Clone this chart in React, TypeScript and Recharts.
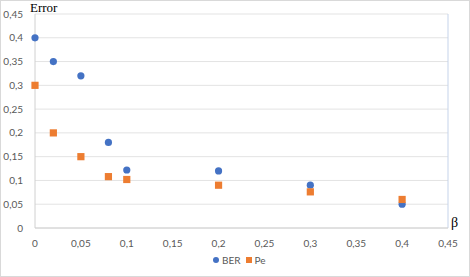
import React from "react";
import {
  ScatterChart,
  Scatter,
  XAxis,
  YAxis,
  CartesianGrid,
  ReferenceLine,
} from "recharts";

// beta values shared by both series
const betas = [0, 0.02, 0.05, 0.08, 0.1, 0.2, 0.3, 0.4];
const berValues = [0.4, 0.35, 0.32, 0.18, 0.122, 0.12, 0.09, 0.05];
const peValues = [0.3, 0.2, 0.15, 0.108, 0.102, 0.09, 0.076, 0.06];

const xTicks = [0, 0.05, 0.1, 0.15, 0.2, 0.25, 0.3, 0.35, 0.4, 0.45];
const yTicks = [0, 0.05, 0.1, 0.15, 0.2, 0.25, 0.3, 0.35, 0.4, 0.45];

const BLUE = "#4472C4";
const ORANGE = "#ED7D31";
const TICK = { fontSize: 10, fill: "#595959", fontFamily: "Lato, 'Noto Sans', sans-serif" };

const berData = betas.map((b, i) => ({ x: b, y: berValues[i] }));
const peData = betas.map((b, i) => ({ x: b, y: peValues[i] }));

const fmt = (v: number) => String(Number(v.toFixed(2))).replace(".", ",");

const Dot = (props: any) => <circle cx={props.cx} cy={props.cy} r={3.6} fill={BLUE} />;
const Square = (props: any) => (
  <rect x={props.cx - 3.6} y={props.cy - 3.6} width={7.2} height={7.2} fill={ORANGE} />
);

const App: React.FC = () => {
  return (
    <div
      style={{
        position: "absolute",
        left: 0,
        top: 0,
        width: 470,
        height: 277,
        background: "#fff",
        boxSizing: "border-box",
        border: "1px solid #d9d9d9",
      }}
    >
      <ScatterChart
        width={468}
        height={275}
        margin={{ top: 13, right: 21, bottom: 0, left: 0 }}
      >
        <CartesianGrid vertical={false} stroke="#e3e3e3" />
        <XAxis
          type="number"
          dataKey="x"
          domain={[0, 0.45]}
          ticks={xTicks}
          tickFormatter={fmt}
          tick={TICK}
          tickLine={false}
          axisLine={{ stroke: "#d0d0d0" }}
          height={48}
          tickMargin={6}
        />
        <YAxis
          type="number"
          dataKey="y"
          domain={[0, 0.45]}
          ticks={yTicks}
          tickFormatter={fmt}
          tick={TICK}
          tickLine={false}
          axisLine={{ stroke: "#d0d0d0" }}
          width={34}
          tickMargin={6}
        />
        <ReferenceLine x={0.45} stroke="#c5d3ea" />
        <Scatter data={berData} shape={Dot} isAnimationActive={false} />
        <Scatter data={peData} shape={Square} isAnimationActive={false} />
      </ScatterChart>
      <div
        style={{
          position: "absolute",
          left: 29,
          top: -1,
          fontFamily: "'Liberation Serif', serif",
          fontSize: 13,
          color: "#000",
        }}
      >
        Error
      </div>
      <div
        style={{
          position: "absolute",
          left: 450,
          top: 214,
          fontFamily: "'Liberation Serif', serif",
          fontSize: 14,
          color: "#000",
        }}
      >
        β
      </div>
      <div
        style={{
          position: "absolute",
          left: 212,
          top: 253,
          display: "flex",
          alignItems: "center",
          fontFamily: "Lato, 'Noto Sans', sans-serif",
          fontSize: 10,
          color: "#595959",
        }}
      >
        <span style={{ width: 6, height: 6, borderRadius: 3, background: BLUE, marginRight: 3 }} />
        <span style={{ marginRight: 5 }}>BER</span>
        <span style={{ width: 6, height: 6, background: ORANGE, marginRight: 3 }} />
        <span>Pe</span>
      </div>
    </div>
  );
};

export default App;
